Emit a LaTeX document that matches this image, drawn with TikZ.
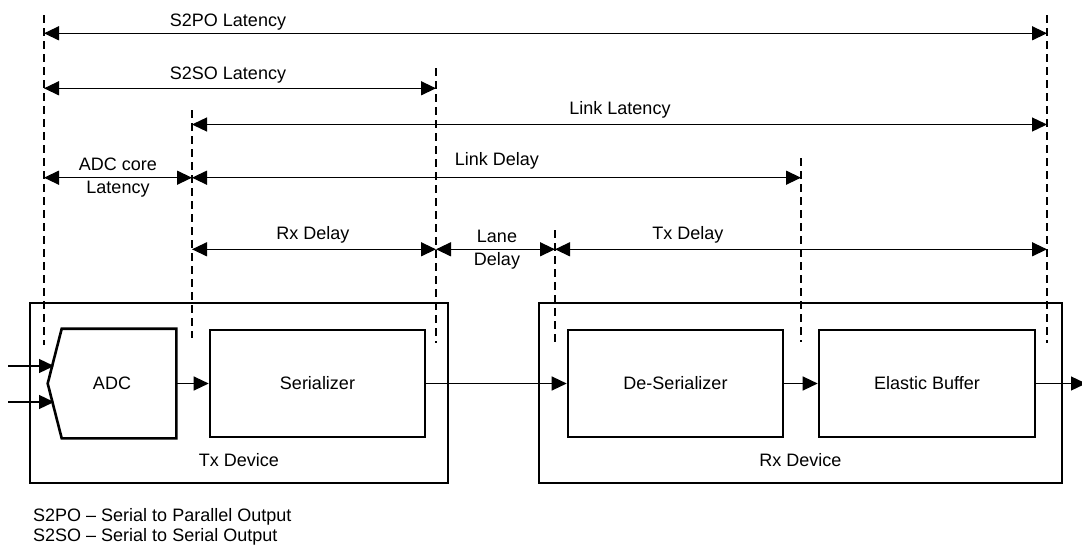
\documentclass[tikz,border=0pt]{standalone}
\usepackage{fontspec}
\setmainfont{Liberation Sans}
\usetikzlibrary{arrows.meta}
\begin{document}
\begin{tikzpicture}[x=1pt,y=-1pt,
  font=\fontsize{18}{23}\selectfont,
  dim/.style={line width=1.3pt,{Triangle[length=15pt,width=14pt]}-{Triangle[length=15pt,width=14pt]}},
  guide/.style={line width=1.1pt,dash pattern=on 8pt off 5pt},
  flow/.style={line width=1.3pt,-{Triangle[length=15pt,width=14pt]}},
  device/.style={draw,line width=2.6pt,rectangle,minimum height=180pt,inner sep=0pt},
  blk/.style={draw,line width=2.6pt,rectangle,minimum height=107pt,inner sep=0pt},
  lbl/.style={inner sep=0pt,anchor=base},
  lbl2/.style={inner sep=0pt,anchor=center,align=center}]
\useasboundingbox (0,0) rectangle (1082,546);

% devices
\node[device,minimum width=418pt] (tx) at (239,393) {};
\node[device,minimum width=523pt] (rx) at (800.5,393) {};
\node[lbl] (txl) at (239,466) {Tx Device};
\node[lbl] (rxl) at (800.5,466) {Rx Device};

% blocks
\node[rectangle,minimum width=112pt,minimum height=107pt,inner sep=0pt,outer sep=1.3pt] (adc) at (119,383.5) {};
\node (adcl) at (112,383.5) {ADC};
\draw[line width=2.6pt,line join=miter] (adc.north west) -- (adc.north east) -- (adc.south east) -- (adc.south west) -- ([xshift=-14pt]adc.west) -- cycle;
\node[blk,minimum width=215pt] (ser) at (317.5,383.5) {Serializer};
\node[blk,minimum width=215pt] (des) at (675.5,383.5) {De-Serializer};
\node[blk,minimum width=216pt] (eb) at (927,383.5) {Elastic Buffer};

% flow arrows
\coordinate (in1) at (8,366);
\coordinate (in1e) at (54,366);
\coordinate (in2) at (8,402);
\coordinate (in2e) at (54,402);
\coordinate (out) at (1086,383.5);
\draw[flow] (in1) -- (in1e);
\draw[flow] (in2) -- (in2e);
\draw[flow] (adc.east) -- (ser.west);
\draw[flow] (ser.east) -- (des.west);
\draw[flow] (des.east) -- (eb.west);
\draw[flow] (eb.east) -- (out);

% guide lines
\coordinate (g1t) at (44,15);   \coordinate (g1b) at (44,345);
\coordinate (g2t) at (192,110); \coordinate (g2b) at (192,338);
\coordinate (g3t) at (436,68);  \coordinate (g3b) at (436,343);
\coordinate (g4t) at (555,230); \coordinate (g4b) at (555,342);
\coordinate (g5t) at (801,158); \coordinate (g5b) at (801,342);
\coordinate (g6t) at (1047,15); \coordinate (g6b) at (1047,343);
\foreach \i in {1,...,6} \draw[guide] (g\i t) -- (g\i b);

% dimension arrows
\coordinate (a1) at (44,33.3);   \coordinate (a2) at (1047,33.3);
\coordinate (b1) at (44,88.3);   \coordinate (b2) at (436,88.3);
\coordinate (c1) at (192,124.5); \coordinate (c2) at (1047,124.5);
\coordinate (d1) at (44,177.7);  \coordinate (d2) at (192,177.7);
\coordinate (d3) at (801,177.7);
\coordinate (e1) at (192,249.3); \coordinate (e2) at (436,249.3);
\coordinate (e3) at (555,249.3); \coordinate (e4) at (1047,249.3);
\draw[dim] (a1) -- (a2);
\draw[dim] (b1) -- (b2);
\draw[dim] (c1) -- (c2);
\draw[dim] (d1) -- (d2);
\draw[dim] (d2) -- (d3);
\draw[dim] (e1) -- (e2);
\draw[dim] (e2) -- (e3);
\draw[dim] (e3) -- (e4);

% labels
\node[lbl] (la) at (228,26.5) {S2PO Latency};
\node[lbl] (lb) at (228,79) {S2SO Latency};
\node[lbl] (lc) at (620,114) {Link Latency};
\node[lbl2] (ld) at (118,178) {ADC core\\Latency};
\node[lbl] (le) at (497,165) {Link Delay};
\node[lbl] (lf) at (313,239) {Rx Delay};
\node[lbl2] (lg) at (497,250) {Lane\\Delay};
\node[lbl] (lh) at (688,239) {Tx Delay};

% notes
\node[inner sep=0pt,anchor=base west] (n1) at (33,521) {S2PO – Serial to Parallel Output};
\node[inner sep=0pt,anchor=base west] (n2) at (33,541.5) {S2SO – Serial to Serial Output};
\end{tikzpicture}
\end{document}
